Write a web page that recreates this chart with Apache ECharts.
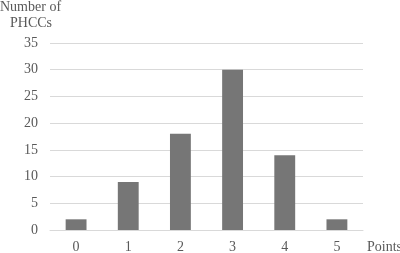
<!DOCTYPE html>
<html>
<head>
<meta charset="utf-8">
<script src="https://cdn.jsdelivr.net/npm/echarts@6/dist/echarts.min.js"></script>
<style>
  html, body { margin: 0; padding: 0; background: #fff; }
  #chart { width: 400px; height: 253px; }
</style>
</head>
<body>
<div id="chart"></div>
<script>
// 数据
let points = ['0', '1', '2', '3', '4', '5'];
let phccCounts = [2, 9, 18, 30, 14, 2];
let yTicks = [0, 5, 10, 15, 20, 25, 30, 35];

let fontFam = '"Liberation Serif", "Times New Roman", serif';
let textColor = '#595959';

let titleStyle = {
    fontFamily: fontFam,
    fontSize: 14,
    fontWeight: 'normal',
    color: textColor
};

let myChart = echarts.init(document.getElementById('chart'));

let option = {
    animation: false,
    title: [
        { text: 'Number of', left: -5, top: -5, textStyle: titleStyle },
        { text: 'PHCCs', left: 5, top: 11, textStyle: titleStyle }
    ],
    grid: {
        left: 50,
        right: 37,
        top: 43,
        bottom: 23,
        outerBoundsMode: 'none',
        containLabel: false
    },
    xAxis: {
        type: 'category',
        data: points,
        name: 'Points',
        nameLocation: 'end',
        nameGap: 4,
        nameTextStyle: {
            fontFamily: fontFam,
            fontSize: 14,
            color: textColor,
            verticalAlign: 'top',
            padding: [10, 0, 0, 0]
        },
        axisLine: { lineStyle: { color: '#d9d9d9', width: 1 } },
        axisTick: { show: false },
        axisLabel: {
            fontFamily: fontFam,
            fontSize: 14,
            color: textColor,
            margin: 10
        }
    },
    yAxis: {
        type: 'value',
        min: yTicks[0],
        max: yTicks[yTicks.length - 1],
        interval: 5,
        axisLine: { show: false },
        axisTick: { show: false },
        splitLine: { lineStyle: { color: '#d9d9d9', width: 1 } },
        axisLabel: {
            fontFamily: fontFam,
            fontSize: 14,
            color: textColor,
            margin: 12
        }
    },
    series: [
        {
            name: 'PHCCs',
            type: 'bar',
            data: phccCounts,
            barWidth: '40%',
            itemStyle: { color: '#767676' }
        }
    ]
};

myChart.setOption(option);
</script>
</body>
</html>
